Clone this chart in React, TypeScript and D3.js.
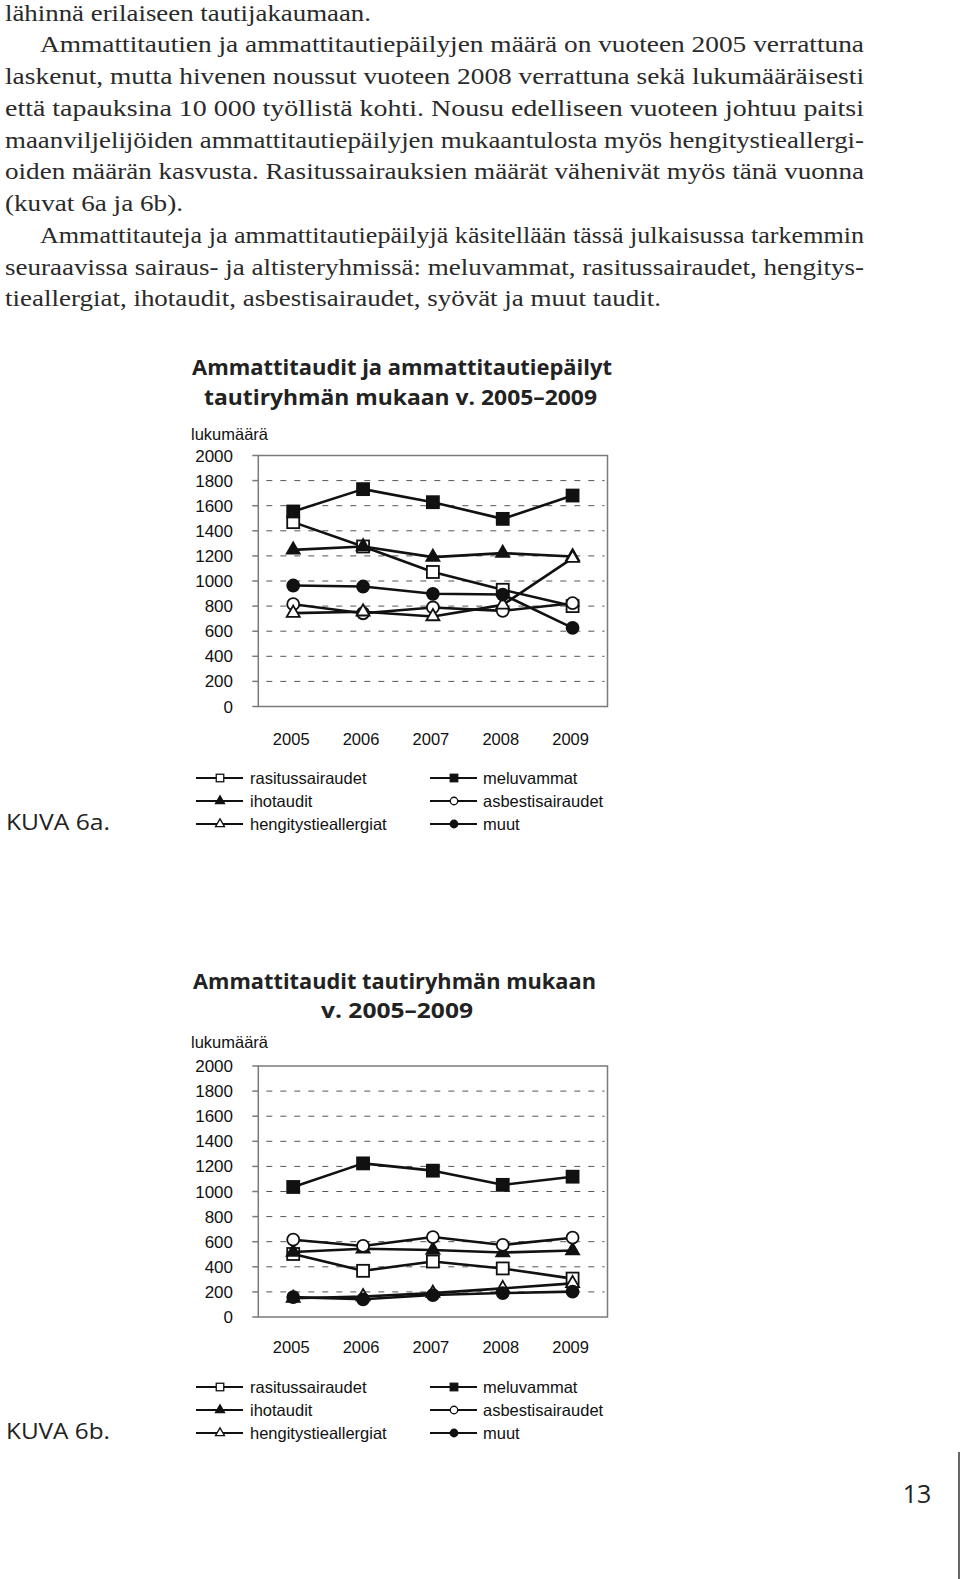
import React from "react";
import * as d3 from "d3";

const years = ["2005", "2006", "2007", "2008", "2009"];
const yTicks = [0, 200, 400, 600, 800, 1000, 1200, 1400, 1600, 1800, 2000];
const gridValues = [200, 400, 600, 800, 1000, 1200, 1400, 1600, 1800];

// Chart 6a values
const rasitus6a = [1469, 1275, 1072, 930, 800];
const melu6a = [1554, 1732, 1628, 1495, 1681];
const iho6a = [1248, 1275, 1190, 1222, 1195];
const asbest6a = [815, 743, 789, 762, 823];
const hengitys6a = [744, 755, 717, 810, 1182];
const muut6a = [964, 956, 898, 892, 627];

// Chart 6b values
const rasitus6b = [502, 368, 442, 387, 306];
const melu6b = [1036, 1224, 1166, 1053, 1118];
const iho6b = [518, 544, 534, 514, 530];
const asbest6b = [616, 566, 637, 574, 632];
const hengitys6b = [150, 163, 190, 228, 268];
const muut6b = [158, 141, 175, 191, 202];

const seriesNames = ["rasitussairaudet", "meluvammat", "ihotaudit", "asbestisairaudet", "hengitystieallergiat", "muut"];
const seriesShapes = ["square", "square", "triangle", "circle", "triangle", "circle"];
const seriesFilled = [false, true, true, false, false, true];

const bodyLines = [
  { t: "lähinnä erilaiseen tautijakaumaan.", x: 5, w: 366 },
  { t: "Ammattitautien ja ammattitautiepäilyjen määrä on vuoteen 2005 verrattuna", x: 40, w: 824 },
  { t: "laskenut, mutta hivenen noussut vuoteen 2008 verrattuna sekä lukumääräisesti", x: 5, w: 859 },
  { t: "että tapauksina 10 000 työllistä kohti. Nousu edelliseen vuoteen johtuu paitsi", x: 5, w: 859 },
  { t: "maanviljelijöiden ammattitautiepäilyjen mukaantulosta myös hengitystieallergi-", x: 5, w: 859 },
  { t: "oiden määrän kasvusta. Rasitussairauksien määrät vähenivät myös tänä vuonna", x: 5, w: 859 },
  { t: "(kuvat 6a ja 6b).", x: 5, w: 178 },
  { t: "Ammattitauteja ja ammattitautiepäilyjä käsitellään tässä julkaisussa tarkemmin", x: 40, w: 824 },
  { t: "seuraavissa sairaus- ja altisteryhmissä: meluvammat, rasitussairaudet, hengitys-", x: 5, w: 859 },
  { t: "tieallergiat, ihotaudit, asbestisairaudet, syövät ja muut taudit.", x: 5, w: 656 },
];

const SANS = "'Liberation Sans', Arial, sans-serif";
const TITLE = "'Open Sans', 'DejaVu Sans', sans-serif";

function Marker({ shape, filled, cx, cy, size, sw }: any) {
  const fill = filled ? "#111" : "#fff";
  if (shape === "square") {
    return <rect x={cx - size / 2} y={cy - size / 2} width={size} height={size} fill={fill} stroke="#111" strokeWidth={sw} />;
  }
  if (shape === "circle") {
    return <circle cx={cx} cy={cy} r={size / 2} fill={fill} stroke="#111" strokeWidth={sw} />;
  }
  const area = (Math.sqrt(3) / 4) * size * size;
  const p = d3.symbol().type(d3.symbolTriangle).size(area)() as string;
  return <path d={p} transform={`translate(${cx},${cy})`} fill={fill} stroke="#111" strokeWidth={sw} />;
}

function Chart({ L, data, titleLines, kuva }: any) {
  const left = 258.3, right = 607.5, top = L.top, bottom = L.top + 251;
  const x = d3.scaleBand().domain(years).range([left, right]).padding(0);
  const y = d3.scaleLinear().domain([0, 2000]).range([bottom, top]);
  const cx = (i: number) => (x(years[i]) as number) + x.bandwidth() / 2;
  const line = d3.line<number>().x((_, i) => cx(i)).y((d) => y(d));

  const legendRows = [L.legend, L.legend + 23, L.legend + 46];
  const legendCols = [{ x1: 196, x2: 243, mx: 220, tx: 250 }, { x1: 430, x2: 477, mx: 454, tx: 483 }];

  return (
    <g>
      {titleLines.map((tl: any, i: number) => (
        <text key={i} x={tl.x} y={tl.y} fontFamily={TITLE} fontWeight="bold" fontSize={21} fill="#222" textLength={tl.w} lengthAdjust="spacingAndGlyphs">
          {tl.t}
        </text>
      ))}
      <text x={191} y={L.luku} fontFamily={SANS} fontSize={16.5} fill="#111">lukumäärä</text>
      {gridValues.map((v) => (
        <line key={"g" + v} x1={left} x2={right - 3} y1={y(v)} y2={y(v)} stroke="#555" strokeWidth={1} strokeDasharray="6 8" strokeDashoffset={6} />
      ))}
      <rect x={left} y={top} width={right - left} height={bottom - top} fill="none" stroke="#7a7a7a" strokeWidth={1.5} />
      {yTicks.map((v) => (
        <g key={"t" + v}>
          <line x1={left - 6} x2={left} y1={y(v)} y2={y(v)} stroke="#7a7a7a" strokeWidth={1.5} />
          <text x={233} y={y(v) + 6} textAnchor="end" fontFamily={SANS} fontSize={17} fill="#111">{v}</text>
        </g>
      ))}
      {years.map((yr, i) => (
        <text key={yr} x={cx(i) - 2} y={L.xlab} textAnchor="middle" fontFamily={SANS} fontSize={16.5} fill="#111">{yr}</text>
      ))}
      {data.map((vals: number[], si: number) => (
        <g key={"s" + si}>
          <path d={line(vals) as string} fill="none" stroke="#111" strokeWidth={2.6} strokeLinejoin="round" />
          {vals.map((v, i) => (
            <Marker key={i} shape={seriesShapes[si]} filled={seriesFilled[si]} cx={cx(i)} cy={y(v)} size={seriesShapes[si] === "triangle" ? 13 : 12} sw={1.8} />
          ))}
        </g>
      ))}
      {seriesNames.map((nm, si) => {
        const col = legendCols[si % 2];
        const ry = legendRows[Math.floor(si / 2)];
        return (
          <g key={"l" + si}>
            <line x1={col.x1} x2={col.x2} y1={ry} y2={ry} stroke="#111" strokeWidth={2.2} />
            <Marker shape={seriesShapes[si]} filled={seriesFilled[si]} cx={col.mx} cy={ry} size={seriesShapes[si] === "triangle" ? 9 : 7.5} sw={1.3} />
            <text x={col.tx} y={ry + 6} fontFamily={SANS} fontSize={16.5} fill="#111">{nm}</text>
          </g>
        );
      })}
      <text x={6} y={L.kuva} fontFamily={TITLE} fontSize={22} fill="#222" textLength={104} lengthAdjust="spacingAndGlyphs">{kuva}</text>
    </g>
  );
}

export default function App() {
  const data6a = [rasitus6a, melu6a, iho6a, asbest6a, hengitys6a, muut6a];
  const data6b = [rasitus6b, melu6b, iho6b, asbest6b, hengitys6b, muut6b];
  const title6a = [
    { t: "Ammattitaudit ja ammattitautiepäilyt", x: 192, y: 375, w: 420 },
    { t: "tautiryhmän mukaan v. 2005–2009", x: 204, y: 405, w: 393 },
  ];
  const title6b = [
    { t: "Ammattitaudit tautiryhmän mukaan", x: 193, y: 989, w: 403 },
    { t: "v. 2005–2009", x: 321, y: 1018, w: 152 },
  ];
  const layout6a = { top: 455.5, luku: 440, xlab: 745, legend: 778, kuva: 830 };
  const layout6b = { top: 1066, luku: 1048, xlab: 1353, legend: 1387, kuva: 1439 };
  return (
    <svg width={960} height={1579} viewBox="0 0 960 1579" style={{ position: "absolute", left: 0, top: 0, background: "#fff" }}>
      <rect x={0} y={0} width={960} height={1579} fill="#fff" />
      {bodyLines.map((l, i) => (
        <text key={i} x={l.x} y={20.5 + 31.75 * i} fontFamily="'Liberation Serif', 'DejaVu Serif', serif" fontSize={23} fill="#2a2a2a" textLength={l.w} lengthAdjust="spacingAndGlyphs">
          {l.t}
        </text>
      ))}
      <Chart L={layout6a} data={data6a} titleLines={title6a} kuva="KUVA 6a." />
      <Chart L={layout6b} data={data6b} titleLines={title6b} kuva="KUVA 6b." />
      <text x={917} y={1503} textAnchor="middle" fontFamily={TITLE} fontSize={25} fill="#222">13</text>
      <line x1={959} x2={959} y1={1452} y2={1579} stroke="#333" strokeWidth={1.5} />
    </svg>
  );
}
